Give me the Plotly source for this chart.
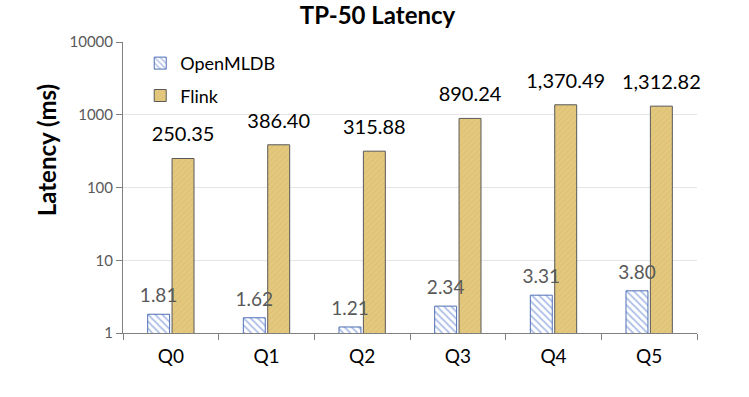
import plotly.graph_objects as go

categories = ["Q0", "Q1", "Q2", "Q3", "Q4", "Q5"]
openmldb = [1.81, 1.62, 1.21, 2.34, 3.31, 3.80]
flink = [250.35, 386.40, 315.88, 890.24, 1370.49, 1312.82]
ytick_vals = [1, 10, 100, 1000, 10000]
ytick_text = ["1", "10", "100", "1000", "10000"]

FONT = "Lato, Open Sans, sans-serif"

fig = go.Figure()
fig.add_trace(go.Bar(
    name="OpenMLDB", x=categories, y=openmldb, offsetgroup="a", legendgroup="a",
    marker=dict(color="#FFFFFF",
                line=dict(color="#4F6FB5", width=1),
                pattern=dict(shape="\\", fgcolor="#5B80D0", bgcolor="#FFFFFF",
                             size=5, solidity=0.35)),
))
fig.add_trace(go.Bar(
    name="Flink", x=categories, y=flink, offsetgroup="b", legendgroup="b",
    marker=dict(color="#E4C87E",
                line=dict(color="#595959", width=1),
                pattern=dict(shape="/", fgcolor="#D3B565", bgcolor="#E4C87E",
                             size=4, solidity=0.25)),
))
# value labels aligned with grouped bars
fig.add_trace(go.Scatter(
    x=categories, y=openmldb, offsetgroup="a", mode="markers+text",
    text=[f"{v:,.2f}" for v in openmldb], textposition="top center",
    textfont=dict(size=19, color="#595959", family=FONT),
    marker=dict(size=10, opacity=0), showlegend=False, hoverinfo="skip",
    cliponaxis=False,
))
fig.add_trace(go.Scatter(
    x=categories, y=flink, offsetgroup="b", mode="markers+text",
    text=[f"{v:,.2f}" for v in flink], textposition="top center",
    textfont=dict(size=20, color="#000000", family=FONT),
    marker=dict(size=18, opacity=0), showlegend=False, hoverinfo="skip",
    cliponaxis=False,
))

fig.update_layout(
    width=749, height=397,
    margin=dict(l=123, r=52, t=42, b=64),
    paper_bgcolor="white", plot_bgcolor="white",
    barmode="group", bargap=0.49, bargroupgap=0.1,
    scattermode="group", scattergap=0.49,
    title=dict(text="<b>TP-50 Latency</b>", x=0.504, xanchor="center",
               y=0.962, yanchor="middle",
               font=dict(size=24, color="#000000", family=FONT)),
    font=dict(family=FONT),
    legend=dict(x=0.03, y=0.99, xanchor="left", yanchor="top",
                bgcolor="rgba(0,0,0,0)", font=dict(size=18, color="#000000"),
                tracegroupgap=6, itemwidth=30, traceorder="grouped"),
    showlegend=True,
    annotations=[dict(
        text="<b>Latency (ms)</b>", textangle=-90,
        xref="paper", yref="paper", x=-0.132, y=0.629,
        xanchor="center", yanchor="middle", showarrow=False,
        font=dict(size=24, color="#000000", family=FONT),
    )],
)
fig.update_yaxes(
    type="log", range=[0, 4],
    tickvals=ytick_vals, ticktext=ytick_text,
    tickfont=dict(size=15, color="#595959"),
    showgrid=True, gridcolor="#E5E5E5", gridwidth=1,
    showline=True, linecolor="#808080", linewidth=1,
    ticks="outside", ticklen=6, tickcolor="#808080",
    zeroline=False,
)
fig.update_xaxes(
    tickfont=dict(size=19, color="#000000"),
    showline=True, linecolor="#808080", linewidth=1,
    ticks="outside", tickson="boundaries", ticklen=6, tickcolor="#808080",
    ticklabelstandoff=6,
    showgrid=False,
)

fig.write_html("out.html", config={"displayModeBar": False},
               post_script="document.body.style.margin='0';")
